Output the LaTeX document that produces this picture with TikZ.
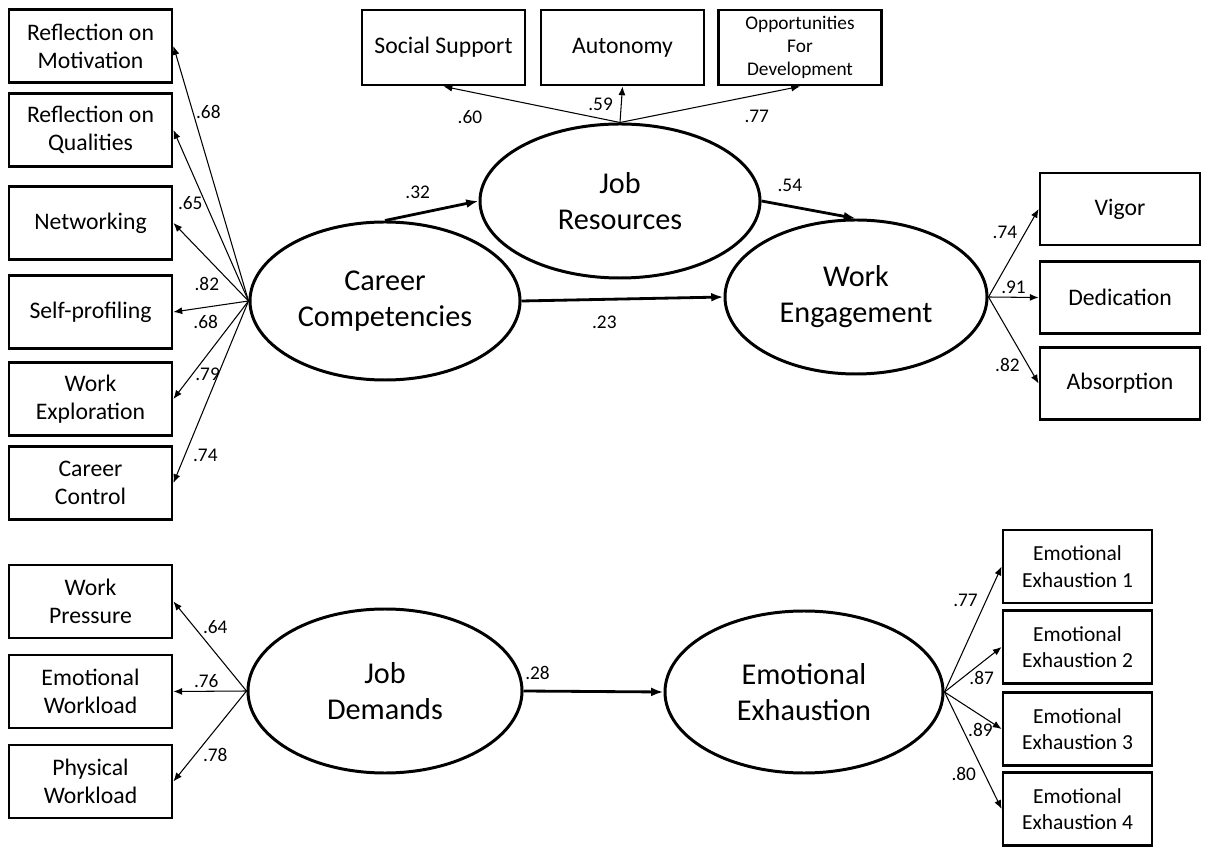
\documentclass[tikz,border=0pt]{standalone}
\usepackage{fontspec}
\setmainfont{Carlito}
\usepackage{tikz}
\usetikzlibrary{arrows.meta, positioning, shapes.geometric}

\begin{document}
\begin{tikzpicture}[on grid,auto]
    \tikzstyle{box}=[shape=rectangle,draw,line width=1.6pt,minimum width=3.26cm,minimum height=1.46cm,align=center,font=\fontsize{13.5}{16}\selectfont]
    \tikzstyle{latent}=[shape=ellipse,draw,line width=1.7pt,inner sep=0pt,align=center,font=\fontsize{17.2}{20.5}\selectfont]
    \tikzstyle{load}=[->,>={Latex[length=5pt,width=4pt]},line width=0.6pt]
    \tikzstyle{path}=[->,>={Latex[length=7pt,width=5pt]},line width=1.6pt]
    \tikzstyle{coef}=[font=\fontsize{11}{13}\selectfont,inner sep=1.5pt]

    \useasboundingbox (0,0) rectangle (24.28,16.94);

    % latent variables
    \node[latent,minimum width=5.4cm,minimum height=3.16cm] (CC) at (7.70,10.92) {Career\\Competencies};
    \node[latent,minimum width=5.6cm,minimum height=3.08cm] (JR) at (12.40,12.92) {Job\\Resources};
    \node[latent,minimum width=5.24cm,minimum height=3.08cm] (WE) at (17.12,11.00) {Work\\Engagement};
    \node[latent,minimum width=5.48cm,minimum height=3.28cm] (JD) at (7.70,3.12) {Job\\Demands};
    \node[latent,minimum width=5.56cm,minimum height=3.24cm] (EE) at (16.08,3.10) {Emotional\\Exhaustion};

    % career competencies
    \node[box] (RM) at (1.81,16.02) {Reflection on\\Motivation};
    \node[box, below=1.68cm of RM] (RQ) {Reflection on\\Qualities};
    \node[box, below=1.86cm of RQ] (NW) {Networking};
    \node[box, below=1.78cm of NW] (SP) {Self-profiling};
    \node[box, below=1.74cm of SP] (WX) {Work\\Exploration};
    \node[box, below=1.68cm of WX] (CT) {Career\\Control};

    % job resources
    \node[box, minimum height=1.5cm] (SS) at (8.87,15.99) {Social Support};
    \node[box, minimum height=1.5cm, right=3.58cm of SS] (AU) {Autonomy};
    \node[box, minimum height=1.5cm, right=3.55cm of AU, font=\fontsize{11}{13}\selectfont] (OD) {Opportunities\\For\\Development};

    % work engagement
    \node[box, minimum width=3.2cm, minimum height=1.44cm] (VI) at (22.40,12.76) {Vigor};
    \node[box, minimum width=3.2cm, minimum height=1.44cm, below=1.77cm of VI] (DE) {Dedication};
    \node[box, minimum width=3.2cm, minimum height=1.44cm, below=1.72cm of DE] (AB) {Absorption};

    % job demands
    \node[box] (WP) at (1.81,4.91) {Work\\Pressure};
    \node[box, below=1.80cm of WP] (EW) {Emotional\\Workload};
    \node[box, below=1.80cm of EW] (PW) {Physical\\Workload};

    % emotional exhaustion
    \tikzstyle{exbox}=[box,minimum width=2.98cm,font=\fontsize{12.2}{15}\selectfont]
    \node[exbox] (EA) at (21.55,5.61) {Emotional\\Exhaustion 1};
    \node[exbox, below=1.61cm of EA] (EB) {Emotional\\Exhaustion 2};
    \node[exbox, below=1.64cm of EB] (EC) {Emotional\\Exhaustion 3};
    \node[exbox, below=1.60cm of EC] (ED) {Emotional\\Exhaustion 4};

    \path[load]
    (CC.west) edge node[coef,pos=.74,right] {.68} (RM.east)
    (CC.west) edge node[coef,pos=.57,left] {.65} (RQ.east)
    (CC.west) edge node[coef,pos=.35,below left] {.82} (NW.east)
    (CC.west) edge node[coef,pos=.57,below=3pt] {.68} (SP.east)
    (CC.west) edge node[coef,pos=.75,right] {.79} (WX.east)
    (CC.west) edge node[coef,pos=.85,right=3pt] {.74} (CT.east)
    (JR.north) edge node[coef,pos=.85,below=9pt] {.60} (SS.south)
    (JR.north) edge node[coef,pos=.5,left=3pt] {.59} (AU.south)
    (JR.north) edge node[coef,pos=.76,below=7pt] {.77} (OD.south)
    (WE.east) edge node[coef,pos=.74,left=3pt] {.74} (VI.west)
    (WE.east) edge node[coef,pos=.5,above] {.91} (DE.west)
    (WE.east) edge node[coef,pos=.79,left=3pt] {.82} (AB.west)
    (JD.west) edge node[coef,pos=.71,right=3pt] {.64} (WP.east)
    (JD.west) edge node[coef,pos=.55,above] {.76} (EW.east)
    (JD.west) edge node[coef,pos=.71,right=3pt] {.78} (PW.east)
    (EE.east) edge node[coef,pos=.73,left=3pt] {.77} (EA.west)
    (EE.east) edge node[coef,pos=.65,below=3pt] {.87} (EB.west)
    (EE.east) edge node[coef,pos=.63,below=3pt] {.89} (EC.west)
    (EE.east) edge node[coef,pos=.70,left=3pt] {.80} (ED.west)
    ;

    \path[path]
    (CC.north) edge node[coef,pos=.35,above=6pt] {.32} (JR.west)
    (JR.east) edge node[coef,pos=.3,above=6pt] {.54} (WE.north)
    (CC.east) edge node[coef,pos=.41,below=7pt] {.23} (WE.west)
    (JD.east) edge node[coef,pos=.1,above=4pt] {.28} (EE.west)
    ;

  \end{tikzpicture}
\end{document}
